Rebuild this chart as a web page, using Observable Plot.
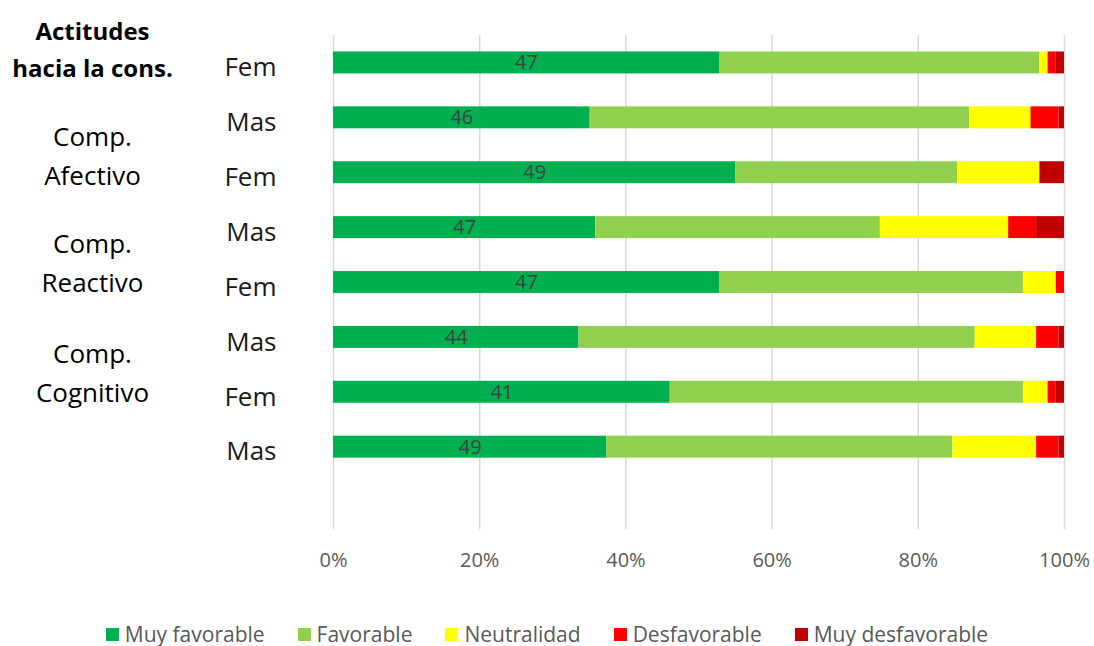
<!DOCTYPE html>
<html>
<head>
<meta charset="utf-8">
<script src="https://cdn.jsdelivr.net/npm/d3@7"></script>
<script src="https://cdn.jsdelivr.net/npm/@observablehq/plot@0.6"></script>
<style>
  html, body { margin: 0; padding: 0; background: #fff; }
  body { font-family: "Open Sans", sans-serif; width: 1094px; height: 646px; overflow: hidden; }
  #wrap { position: relative; width: 1094px; height: 646px; }
  #chart { position: absolute; left: 0; top: 0; }
  .grp { position: absolute; left: 0; width: 185px; text-align: center; font-size: 26px; line-height: 39px; color: #000; }
  .grp.bold { font-weight: bold; font-size: 24px; line-height: 37px; }
  #legend { position: absolute; left: 0; top: 620px; width: 1094px; display: flex; justify-content: center; gap: 33px; font-size: 21px; color: #595959; }
  #legend .item { display: flex; align-items: center; gap: 6px; }
  #legend .sw { width: 13px; height: 13px; display: inline-block; }
</style>
</head>
<body>
<div id="wrap">
  <div id="chart"></div>
  <div id="groups"></div>
  <div id="legend"></div>
</div>
<script>
// ---- Data ----
const rows = ["Fem", "Mas", "Fem", "Mas", "Fem", "Mas", "Fem", "Mas"];
const categories = ["Muy favorable", "Favorable", "Neutralidad", "Desfavorable", "Muy desfavorable"];
const muyFavorable    = [47, 46, 49, 47, 47, 44, 41, 49];
const favorable       = [39, 68, 27, 51, 37, 71, 43, 62];
const neutralidad     = [1, 11, 10, 23, 4, 11, 3, 15];
const desfavorable    = [1, 5, 0, 5, 1, 4, 1, 4];
const muyDesfavorable = [1, 1, 3, 5, 0, 1, 1, 1];
const colors = ["#00b050", "#92d050", "#ffff00", "#ff0000", "#c00000"];
const xTicks = [0, 0.2, 0.4, 0.6, 0.8, 1];
const groups = [["Actitudes", "hacia la cons."], ["Comp.", "Afectivo"], ["Comp.", "Reactivo"], ["Comp.", "Cognitivo"]];

// ---- Build table ----
const series = [muyFavorable, favorable, neutralidad, desfavorable, muyDesfavorable];
const keys = rows.map((r, i) => "r" + i);
const yDomain = [...keys, "blank"];
const labelOf = new Map(keys.map((k, i) => [k, rows[i]]));
const data = [];
rows.forEach((r, i) => {
  categories.forEach((c, j) => {
    data.push({key: keys[i], cat: c, value: series[j][i]});
  });
});

const chart = Plot.plot({
  width: 1094,
  height: 600,
  marginLeft: 333,
  marginRight: 30,
  marginTop: 35,
  marginBottom: 71,
  style: {fontFamily: "'Open Sans', sans-serif", background: "#fff"},
  x: {domain: [0, 1]},
  y: {domain: yDomain, paddingInner: 0.6, paddingOuter: 0.3, round: false},
  color: {domain: categories, range: colors},
  marks: [
    Plot.gridX(xTicks, {stroke: "#d9d9d9", strokeOpacity: 1, strokeWidth: 1.5}),
    Plot.barX(data, Plot.stackX({x: "value", y: "key", fill: "cat", offset: "normalize", order: categories})),
    Plot.text(data, Plot.stackX({
      x: "value", y: "key", z: "cat", offset: "normalize", order: categories,
      text: d => d.cat === "Muy favorable" ? String(d.value) : null,
      fill: "#404040", fontSize: 20
    })),
    Plot.axisX(xTicks, {tickSize: 0, tickPadding: 23, tickFormat: d3.format(".0%"), fontSize: 20, fill: "#595959", label: null}),
    Plot.axisY({tickSize: 0, tickPadding: 57, tickFormat: d => labelOf.get(d) ?? "", fontSize: 26, fill: "#1a1a1a", dy: 5, label: null})
  ]
});
document.getElementById("chart").appendChild(chart);

// Group labels (annotations at the left)
const grpTops = [12, 117, 224, 334];
const gEl = document.getElementById("groups");
groups.forEach((g, i) => {
  const d = document.createElement("div");
  d.className = "grp" + (i === 0 ? " bold" : "");
  d.style.top = grpTops[i] + "px";
  d.innerHTML = g.map(s => `<div>${s}</div>`).join("");
  gEl.appendChild(d);
});

// Legend
const lg = document.getElementById("legend");
categories.forEach((c, i) => {
  const it = document.createElement("div");
  it.className = "item";
  it.innerHTML = `<span class="sw" style="background:${colors[i]}"></span><span>${c}</span>`;
  lg.appendChild(it);
});
</script>
</body>
</html>
